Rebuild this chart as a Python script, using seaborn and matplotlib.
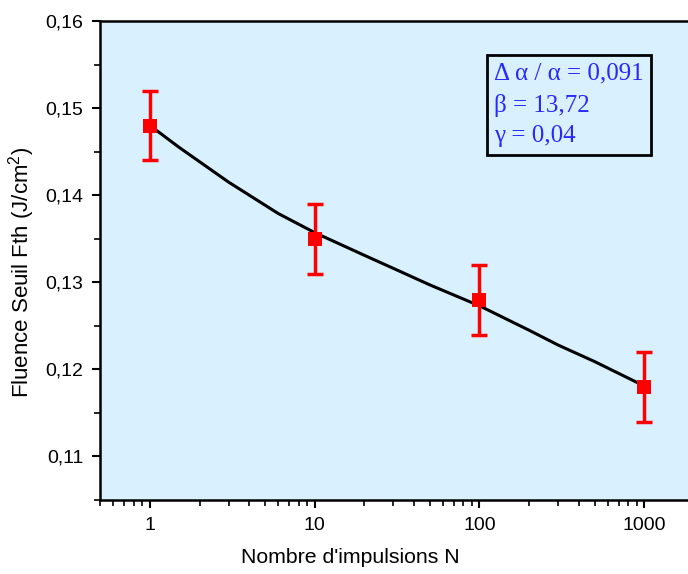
import numpy as np
import pandas as pd
import seaborn as sns
import matplotlib.pyplot as plt
from matplotlib.ticker import MultipleLocator, FuncFormatter, LogLocator

# données mesurées
impulsions = [1, 10, 100, 1000]
fluence = [0.148, 0.135, 0.128, 0.118]
erreur = [0.004, 0.004, 0.004, 0.004]

# courbe d'ajustement
fit_n = [1, 1.5, 3, 6, 10, 20, 30, 50, 100, 200, 300, 500, 1000]
fit_f = [0.1480, 0.1455, 0.1415, 0.1379, 0.1357, 0.1331, 0.1316, 0.1297,
         0.1273, 0.1245, 0.1228, 0.1209, 0.1181]

texte_box = "Δ α / α = 0,091\nβ = 13,72\nγ = 0,04"

sns.set_style("ticks")
plt.rcParams['font.family'] = ['Liberation Sans', 'DejaVu Sans']
plt.rcParams['mathtext.fontset'] = 'custom'
plt.rcParams['mathtext.rm'] = 'Liberation Sans'
for k in ['text.color', 'axes.labelcolor', 'xtick.color', 'ytick.color', 'axes.edgecolor']:
    plt.rcParams[k] = 'black'

mesures = pd.DataFrame({"N": impulsions, "F": fluence})
courbe = pd.DataFrame({"N": fit_n, "F": fit_f})

fig = plt.figure(figsize=(6.88, 5.74), dpi=100)
ax = fig.add_axes([100/688, 74/574, 590/688, 479/574])
ax.set_facecolor("#d9f1ff")

sns.lineplot(x="N", y="F", data=courbe, color="black", lw=2.2, ax=ax, zorder=2)
ax.errorbar(impulsions, fluence, yerr=erreur, fmt="none", ecolor="red",
            elinewidth=2.5, capsize=5.5, capthick=2.5, zorder=3)
sns.scatterplot(x="N", y="F", data=mesures, marker="s", s=110, color="red",
                edgecolor="red", linewidth=0, ax=ax, zorder=4)

ax.set_xscale("log")
ax.set_xlim(0.497, 1900)
ax.set_ylim(0.105, 0.16)
ax.set_xticks([1, 10, 100, 1000])
ax.set_xticklabels(["1", "10", "100", "1000"])
ax.xaxis.set_minor_locator(LogLocator(base=10, subs=np.arange(2, 10)))
ax.yaxis.set_major_locator(MultipleLocator(0.01))
ax.yaxis.set_minor_locator(MultipleLocator(0.005))
ax.yaxis.set_major_formatter(FuncFormatter(lambda v, p: f"{v:.2f}".replace(".", ",")))

ax.tick_params(which="major", direction="out", length=6, width=1.5, labelsize=14, pad=6)
ax.tick_params(which="minor", direction="out", length=4, width=1.2)
for s in ax.spines.values():
    s.set_linewidth(1.8)

ax.set_xlabel("Nombre d'impulsions N", fontsize=15.3)
ax.set_ylabel("Fluence Seuil Fth (J/cm$^{2}$)", fontsize=16)
ax.xaxis.set_label_coords(0.425, -0.1)
ax.yaxis.set_label_coords(-0.107, 0.476)

ax.text(0.668, 0.913, texte_box, transform=ax.transAxes, va="top", ha="left",
        fontsize=18, color="#2828ff", family="Liberation Serif", linespacing=1.5,
        bbox=dict(boxstyle="square,pad=0.3", fc="#d9f1ff", ec="black", lw=2))

fig.savefig("out.png", dpi=100)
